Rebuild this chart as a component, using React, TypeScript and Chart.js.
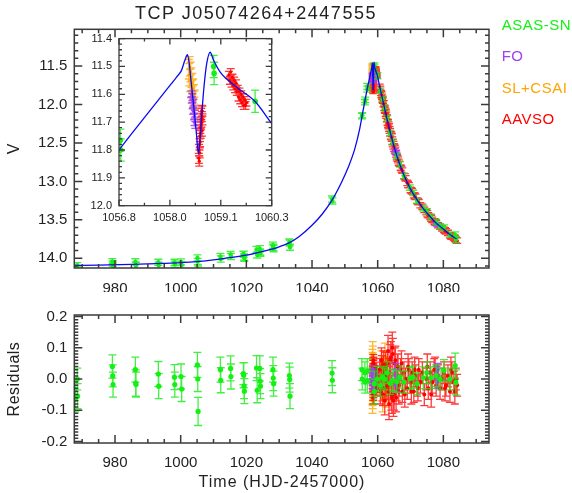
import React, { useEffect, useRef } from 'react';
import { Chart, registerables } from 'chart.js';
Chart.register(...registerables);

// ---------------- data ----------------
const TITLE = 'TCP J05074264+2447555';
const X_TITLE = 'Time (HJD-2457000)';

// model light curve
const modelT = [967.5, 975, 985, 995, 1000, 1005, 1010, 1015, 1020, 1025, 1030, 1033, 1036, 1040, 1043, 1046, 1049, 1051, 1053, 1054.5, 1055.5, 1056.2, 1056.8, 1057.4, 1058.0, 1058.12, 1058.23, 1058.31, 1058.37, 1058.41, 1058.45, 1058.5, 1058.55, 1058.58, 1058.62, 1058.665, 1058.71, 1058.75, 1058.81, 1058.89, 1058.96, 1059.12, 1059.5, 1059.92, 1060.3, 1061, 1062, 1063, 1064, 1065, 1066, 1067, 1068, 1070, 1072, 1074, 1076, 1078, 1080, 1082, 1084];
const modelV = [14.092, 14.088, 14.079, 14.066, 14.057, 14.042, 14.02, 13.99, 13.96, 13.91, 13.85, 13.8, 13.72, 13.57, 13.43, 13.25, 13.01, 12.82, 12.58, 12.32, 12.09, 11.93, 11.8, 11.68, 11.562, 11.538, 11.515, 11.478, 11.458, 11.49, 11.55, 11.624, 11.7, 11.75, 11.814, 11.745, 11.645, 11.57, 11.49, 11.449, 11.475, 11.52, 11.575, 11.626, 11.705, 11.84, 12.03, 12.22, 12.39, 12.55, 12.69, 12.81, 12.92, 13.1, 13.24, 13.36, 13.46, 13.55, 13.62, 13.69, 13.75];

// ASAS-SN
const asasT = [967.7, 967.9, 968.5, 968.6, 979.2, 979.3, 979.4, 986.2, 986.3, 986.4, 993.2, 993.3, 998.1, 998.2, 1000.1, 1000.3, 1005.1, 1005.2, 1005.3, 1012.1, 1012.2, 1015.2, 1015.3, 1019.1, 1019.2, 1019.3, 1019.4, 1023.1, 1023.3, 1024.1, 1024.2, 1024.3, 1028.1, 1028.2, 1028.3, 1033.1, 1033.2, 1033.3, 1046.1, 1046.2, 1055.2, 1055.3, 1056.1, 1056.2, 1056.83, 1056.84, 1058.97, 1058.98, 1059.92, 1060.8, 1061.5, 1062.1, 1062.9, 1063.8, 1064.6, 1065.8, 1066.8, 1068.0, 1069.8, 1070.8, 1072.0, 1073.9, 1075.0, 1076.2, 1077.8, 1079.0, 1080.2, 1082.0, 1083.6, 1083.8];
const asasV = [14.125, 14.15, 14.09, 14.145, 14.04, 14.07, 14.1, 14.046, 14.089, 14.094, 14.052, 14.091, 14.052, 14.076, 14.047, 14.087, 13.995, 14.04, 14.145, 13.975, 14.009, 13.951, 13.977, 13.943, 13.948, 13.983, 13.999, 13.885, 13.956, 13.876, 13.917, 13.933, 13.83, 13.857, 13.875, 13.789, 13.802, 13.855, 13.23, 13.254, 12.15, 12.14, 11.97, 11.94, 11.765, 11.8, 11.5, 11.525, 11.625, 11.82, 11.93, 12.05, 12.18, 12.37, 12.49, 12.67, 12.78, 12.93, 13.08, 13.15, 13.255, 13.35, 13.39, 13.465, 13.53, 13.585, 13.6, 13.69, 13.695, 13.755];
const asasErr = [0.035, 0.045, 0.035, 0.04, 0.037, 0.035, 0.04, 0.04, 0.042, 0.04, 0.04, 0.04, 0.04, 0.04, 0.04, 0.04, 0.04, 0.04, 0.045, 0.04, 0.04, 0.04, 0.04, 0.035, 0.04, 0.04, 0.04, 0.04, 0.04, 0.04, 0.04, 0.04, 0.04, 0.04, 0.04, 0.04, 0.04, 0.04, 0.04, 0.04, 0.035, 0.035, 0.035, 0.035, 0.04, 0.04, 0.04, 0.04, 0.04, 0.035, 0.035, 0.035, 0.035, 0.035, 0.035, 0.035, 0.035, 0.035, 0.035, 0.035, 0.035, 0.035, 0.035, 0.035, 0.035, 0.035, 0.035, 0.035, 0.04, 0.04];
const asasRes = [-0.034, -0.06, 0.0, -0.055, 0.04, 0.01, -0.018, 0.03, -0.013, -0.018, 0.016, -0.023, 0.006, -0.018, 0.008, -0.032, 0.045, 0.0, -0.104, 0.03, -0.004, 0.034, 0.008, 0.017, 0.012, -0.023, -0.039, 0.035, -0.036, 0.034, -0.007, -0.023, 0.03, 0.003, -0.015, 0.011, -0.002, -0.055, 0.019, -0.004, 0.03, 0.0, 0.02, -0.01, 0.025, -0.005, -0.015, -0.04, 0.0, -0.02, 0.005, 0.0, 0.02, -0.014, -0.004, -0.008, 0.006, -0.01, 0.002, 0.006, -0.015, 0.004, 0.02, 0.004, 0.011, 0.0, 0.027, 0.0, 0.043, -0.011];

// FO
const foT = [1058.46, 1058.47, 1058.48, 1058.49, 1058.5, 1058.51, 1058.52, 1058.53, 1058.54, 1058.55, 1065.3, 1065.5, 1065.7, 1077.9, 1078.1, 1078.3];
const foV = [11.6, 11.62, 11.61, 11.64, 11.66, 11.63, 11.68, 11.7, 11.67, 11.71, 12.59, 12.62, 12.64, 13.55, 13.56, 13.57];
const foErr = [0.012, 0.012, 0.012, 0.012, 0.012, 0.012, 0.012, 0.012, 0.012, 0.012, 0.02, 0.02, 0.02, 0.02, 0.02, 0.02];
const foRes = [0.01, -0.02, 0.03, 0.0, -0.01, 0.02, -0.03, 0.01, 0.02, -0.01, 0.03, -0.02, 0.01, 0.02, -0.01, 0.03];

// SL+CSAI
const slT = [1058.4, 1058.41, 1058.42, 1058.43, 1058.44, 1058.45, 1058.46, 1058.47, 1058.48, 1058.49, 1058.5, 1058.51, 1058.52, 1058.53, 1058.54, 1061.2, 1061.5, 1061.8, 1062.2, 1062.5, 1062.8, 1063.1];
const slV = [11.51, 11.53, 11.5, 11.55, 11.52, 11.57, 11.54, 11.59, 11.56, 11.61, 11.58, 11.63, 11.6, 11.65, 11.62, 11.88, 11.94, 11.99, 12.07, 12.12, 12.18, 12.24];
const slErr = [0.035, 0.04, 0.035, 0.04, 0.035, 0.04, 0.035, 0.04, 0.035, 0.04, 0.035, 0.04, 0.035, 0.04, 0.035, 0.04, 0.045, 0.04, 0.045, 0.04, 0.045, 0.04];
const slRes = [0.06, -0.04, 0.03, -0.07, 0.05, 0.0, -0.05, 0.08, -0.02, 0.04, -0.06, 0.02, 0.07, -0.03, 0.01, 0.05, -0.06, 0.03, 0.07, -0.05, 0.02, -0.03];

// AAVSO
const aavsoT = [1058.63, 1058.635, 1058.64, 1058.645, 1058.65, 1058.655, 1058.66, 1058.665, 1058.67, 1058.675, 1058.68, 1058.685, 1058.69, 1058.695, 1058.7, 1058.705, 1058.71, 1058.715,
  1059.32, 1059.34, 1059.36, 1059.38, 1059.4, 1059.42, 1059.44, 1059.46, 1059.48, 1059.5, 1059.52, 1059.54, 1059.56, 1059.58, 1059.6, 1059.62, 1059.64, 1059.66, 1059.68, 1059.7, 1059.72,
  1060.6, 1061.0, 1061.3, 1061.6, 1062.0, 1062.3, 1062.6, 1063.0, 1063.3, 1063.6, 1064.0, 1064.3, 1064.6, 1065.0, 1065.4, 1065.8, 1066.2, 1066.6, 1067.0, 1067.5, 1068.0, 1068.5, 1069.0, 1069.5, 1070.0, 1070.5, 1071.0, 1071.5, 1072.0, 1072.5, 1073.0, 1073.6, 1074.2, 1074.8, 1075.4, 1076.0, 1076.6, 1077.2, 1077.8, 1078.4, 1079.0, 1079.6, 1080.2, 1080.8, 1081.4, 1082.0, 1082.6, 1083.2, 1083.8, 1084.2,
  1060.8, 1061.15, 1061.45, 1061.8, 1062.15, 1062.45, 1062.8, 1063.15, 1063.45, 1063.8, 1064.15, 1064.45, 1064.8, 1065.2, 1065.6, 1066.0, 1066.4, 1067.25, 1068.25, 1069.25, 1070.25, 1071.25, 1072.25, 1075.1, 1076.3, 1077.5, 1080.5, 1082.3, 1083.5];
const aavsoV = [11.83, 11.8, 11.84, 11.78, 11.81, 11.75, 11.77, 11.72, 11.74, 11.69, 11.71, 11.67, 11.7, 11.66, 11.68, 11.73, 11.66, 11.69,
  11.53, 11.55, 11.52, 11.56, 11.54, 11.57, 11.55, 11.58, 11.56, 11.59, 11.58, 11.61, 11.59, 11.62, 11.6, 11.63, 11.61, 11.64, 11.62, 11.64, 11.63,
  11.77, 11.85, 11.9, 11.95, 12.04, 12.08, 12.14, 12.23, 12.27, 12.33, 12.4, 12.43, 12.5, 12.56, 12.6, 12.68, 12.72, 12.77, 12.82, 12.86, 12.93, 12.96, 13.02, 13.05, 13.11, 13.13, 13.18, 13.2, 13.25, 13.27, 13.31, 13.33, 13.37, 13.4, 13.44, 13.46, 13.5, 13.52, 13.54, 13.57, 13.59, 13.61, 13.63, 13.65, 13.67, 13.7, 13.72, 13.73, 13.76, 13.77,
  11.8, 11.87, 11.93, 11.99, 12.06, 12.11, 12.18, 12.25, 12.3, 12.36, 12.41, 12.47, 12.53, 12.58, 12.64, 12.7, 12.75, 12.84, 12.94, 13.04, 13.12, 13.19, 13.26, 13.42, 13.48, 13.53, 13.64, 13.71, 13.74];
const aavsoErr = [0.018, 0.02, 0.018, 0.02, 0.018, 0.02, 0.018, 0.02, 0.018, 0.02, 0.018, 0.02, 0.018, 0.02, 0.018, 0.02, 0.018, 0.02,
  0.012, 0.014, 0.012, 0.014, 0.012, 0.014, 0.012, 0.014, 0.012, 0.014, 0.012, 0.014, 0.012, 0.014, 0.012, 0.014, 0.012, 0.014, 0.012, 0.014, 0.012,
  0.035, 0.035, 0.035, 0.035, 0.035, 0.035, 0.04, 0.04, 0.045, 0.045, 0.05, 0.05, 0.05, 0.05, 0.045, 0.04, 0.04, 0.035, 0.035, 0.035, 0.035, 0.035, 0.035, 0.035, 0.035, 0.035, 0.035, 0.035, 0.035, 0.035, 0.035, 0.035, 0.035, 0.035, 0.035, 0.035, 0.035, 0.035, 0.035, 0.035, 0.035, 0.035, 0.035, 0.035, 0.035, 0.035, 0.035, 0.035, 0.035, 0.035,
  0.04, 0.04, 0.04, 0.04, 0.045, 0.045, 0.045, 0.05, 0.05, 0.05, 0.05, 0.05, 0.05, 0.05, 0.045, 0.04, 0.04, 0.04, 0.04, 0.04, 0.04, 0.04, 0.04, 0.04, 0.04, 0.04, 0.04, 0.04, 0.04];
const aavsoRes = [0.02, -0.03, 0.05, -0.06, 0.01, 0.04, -0.02, 0.03, -0.05, 0.0, 0.06, -0.04, 0.02, -0.01, 0.03, -0.03, 0.01, 0.05,
  0.01, -0.02, 0.03, -0.01, 0.02, -0.03, 0.0, 0.04, -0.02, 0.01, -0.04, 0.02, 0.0, -0.01, 0.03, -0.02, 0.01, 0.02, -0.03, 0.0, 0.01,
  0.03, -0.02, 0.04, -0.05, 0.02, -0.03, 0.01, 0.05, -0.04, 0.02, 0.07, -0.06, 0.08, -0.05, 0.06, -0.03, 0.04, -0.02, 0.03, -0.04, 0.02, 0.0, -0.03, 0.03, -0.01, 0.02, -0.04, 0.01, -0.02, 0.03, -0.01, 0.02, -0.05, 0.0, -0.03, 0.02, -0.01, 0.03, -0.02, 0.01, -0.03, 0.0, 0.02, -0.02, 0.01, -0.04, 0.02, -0.01, 0.0, -0.02,
  -0.04, 0.06, -0.03, 0.05, -0.07, 0.04, -0.02, 0.09, -0.08, 0.06, -0.05, 0.1, -0.07, 0.05, -0.06, 0.04, -0.04, 0.05, -0.05, 0.04, -0.04, 0.03, -0.03, 0.04, -0.05, 0.03, -0.03, 0.03, -0.04];

// axis ticks / labels
const mainXTicks = [980, 1000, 1020, 1040, 1060, 1080];
const mainYTicks = [11.5, 12.0, 12.5, 13.0, 13.5, 14.0];
const resYTicks = [-0.2, -0.1, 0.0, 0.1, 0.2];
const insetYTicks = [11.4, 11.5, 11.6, 11.7, 11.8, 11.9, 12.0];
const insetXLabels = ['1056.8', '1058.0', '1059.1', '1060.3'];
const legendNames = ['ASAS-SN', 'FO', 'SL+CSAI', 'AAVSO'];

// ---------------- styles ----------------
const GREEN = '#14f014';
const PURPLE = '#a040f0';
const ORANGE = '#ffa500';
const RED = '#ff0000';
const BLUE = '#0a0af0';
const AXIS = '#3a3a3a';
const FONT = "'Liberation Sans', Arial, Helvetica, sans-serif";

const X_MIN = 967.6, X_MAX = 1093.9;
const V_TOP = 11.022, V_BOT = 14.126;
const R_MIN = -0.205, R_MAX = 0.205;
const IX_MIN = 1056.8, IX_MAX = 1060.3;
const IY_MIN = 11.4, IY_MAX = 12.0;

Chart.defaults.font.family = FONT;

function stepTicks(min: number, max: number, step: number, start?: number) {
  const out: number[] = [];
  const s0 = start !== undefined ? start : Math.ceil(min / step - 1e-9) * step;
  for (let k = 0; ; k++) {
    const v = s0 + k * step;
    if (v > max + 1e-9) break;
    if (v >= min - 1e-9) out.push(v);
  }
  return out;
}

const errorBars = {
  id: 'errorBars',
  beforeDatasetDraw(chart: any, args: any) {
    const ds = chart.data.datasets[args.index];
    if (!ds.errs) return;
    const meta = args.meta;
    const ys = chart.scales[meta.yAxisID];
    const { ctx, chartArea: a } = chart;
    ctx.save();
    ctx.beginPath();
    ctx.rect(a.left, a.top, a.right - a.left, a.bottom - a.top);
    ctx.clip();
    ctx.strokeStyle = ds.errColor;
    ctx.lineWidth = ds.errWidth || 1.2;
    const cap = ds.cap || 4;
    ctx.beginPath();
    ds.data.forEach((p: any, i: number) => {
      const el = meta.data[i];
      if (!el) return;
      const x = el.x;
      const y1 = ys.getPixelForValue(p.y - ds.errs[i]);
      const y2 = ys.getPixelForValue(p.y + ds.errs[i]);
      ctx.moveTo(x, y1); ctx.lineTo(x, y2);
      ctx.moveTo(x - cap, y1); ctx.lineTo(x + cap, y1);
      ctx.moveTo(x - cap, y2); ctx.lineTo(x + cap, y2);
    });
    ctx.stroke();
    ctx.restore();
  },
};

function makeBox(cfg: any) {
  return {
    id: 'boxTicks',
    beforeDraw(chart: any) {
      if (!cfg.white) return;
      const { ctx, chartArea: a } = chart;
      ctx.save();
      ctx.fillStyle = '#ffffff';
      ctx.fillRect(a.left, a.top, a.right - a.left, a.bottom - a.top);
      ctx.restore();
    },
    afterDatasetsDraw(chart: any) {
      const { ctx, chartArea: a } = chart;
      const xs = chart.scales.x, ys = chart.scales.y;
      ctx.save();
      ctx.strokeStyle = AXIS;
      ctx.lineWidth = cfg.lw;
      ctx.beginPath();
      const xt = (vals: number[], len: number) => vals.forEach((v) => {
        const p = xs.getPixelForValue(v);
        if (p < a.left - 0.5 || p > a.right + 0.5) return;
        ctx.moveTo(p, a.bottom); ctx.lineTo(p, a.bottom - len);
        ctx.moveTo(p, a.top); ctx.lineTo(p, a.top + len);
      });
      const yt = (vals: number[], len: number) => vals.forEach((v) => {
        const p = ys.getPixelForValue(v);
        if (p < a.top - 0.5 || p > a.bottom + 0.5) return;
        ctx.moveTo(a.left, p); ctx.lineTo(a.left + len, p);
        ctx.moveTo(a.right, p); ctx.lineTo(a.right - len, p);
      });
      xt(cfg.xMinor, cfg.minLen); xt(cfg.xMajor, cfg.majLen);
      yt(cfg.yMinor, cfg.minLen); yt(cfg.yMajor, cfg.majLen);
      ctx.stroke();
      ctx.strokeRect(a.left, a.top, a.right - a.left, a.bottom - a.top);
      ctx.restore();
    },
  };
}

type Series = { t: number[]; v: number[]; e: number[]; r: number[]; color: string; err: string; order: number; big?: boolean };
const seriesList: Series[] = [
  { t: slT, v: slV, e: slErr, r: slRes, color: ORANGE, err: 'rgba(255,165,0,0.8)', order: 4 },
  { t: aavsoT, v: aavsoV, e: aavsoErr, r: aavsoRes, color: RED, err: 'rgba(255,0,0,0.78)', order: 3 },
  { t: foT, v: foV, e: foErr, r: foRes, color: PURPLE, err: 'rgba(160,64,240,0.85)', order: 2 },
  { t: asasT, v: asasV, e: asasErr, r: asasRes, color: GREEN, err: 'rgba(20,235,20,0.8)', order: 1, big: true },
];

function buildSets(mode: 'mag' | 'res', small: number, bigR: number, cap: number, withModel: boolean) {
  const sets: any[] = seriesList.map((s) => ({
    type: 'scatter',
    data: s.t.map((x, i) => ({ x, y: mode === 'mag' ? s.v[i] : s.r[i] })),
    errs: s.e,
    errColor: s.err,
    errWidth: 1.3,
    cap,
    pointRadius: s.big ? bigR : small,
    pointBackgroundColor: s.color,
    pointBorderWidth: 0,
    pointStyle: 'circle',
    order: s.order,
  }));
  if (withModel) {
    sets.push({
      type: 'line',
      data: modelT.map((x, i) => ({ x, y: modelV[i] })),
      borderColor: BLUE,
      borderWidth: 1.3,
      pointRadius: 0,
      fill: false,
      cubicInterpolationMode: 'monotone',
      order: 0,
    });
  }
  return sets;
}

function baseScale(min: number, max: number, ticks: number[], fmt: (v: number) => string, size: number, pad: number, fit: (s: any) => void, reverse = false) {
  return {
    type: 'linear',
    min, max, reverse,
    grid: { display: false, drawTicks: false },
    border: { display: false },
    afterBuildTicks: (s: any) => { s.ticks = ticks.map((v) => ({ value: v })); },
    afterFit: fit,
    ticks: { autoSkip: false, maxRotation: 0, minRotation: 0, padding: pad, color: '#222', font: { size, family: FONT }, callback: (v: any) => fmt(Number(v)) },
  };
}

const common = {
  responsive: false,
  animation: false,
  events: [],
  plugins: { legend: { display: false }, tooltip: { enabled: false }, title: { display: false } },
};

export default function App() {
  const mainRef = useRef<HTMLCanvasElement>(null);
  const resRef = useRef<HTMLCanvasElement>(null);
  const insetRef = useRef<HTMLCanvasElement>(null);

  useEffect(() => {
    const charts: Chart[] = [];
    const insetXTicks = insetXLabels.map((_, k) => IX_MIN + (k * (IX_MAX - IX_MIN)) / (insetXLabels.length - 1));

    charts.push(new Chart(mainRef.current as HTMLCanvasElement, {
      type: 'scatter',
      data: { datasets: buildSets('mag', 1.6, 2.2, 4, true) },
      options: {
        ...common,
        layout: { padding: { left: 0, top: 29.3, right: 83, bottom: 8 } },
        scales: {
          x: baseScale(X_MIN, X_MAX, mainXTicks, (v) => String(Math.round(v)), 15, 11.5, (s: any) => { s.height = 24; }),
          y: baseScale(V_TOP, V_BOT, mainYTicks, (v) => v.toFixed(1), 15, 7, (s: any) => { s.width = 74.3; }, true),
        },
      } as any,
      plugins: [errorBars, makeBox({ lw: 1.5, majLen: 8, minLen: 4, xMajor: mainXTicks, xMinor: stepTicks(X_MIN, X_MAX, 5), yMajor: mainYTicks, yMinor: stepTicks(V_TOP, V_BOT, 0.1) })],
    } as any));

    charts.push(new Chart(resRef.current as HTMLCanvasElement, {
      type: 'scatter',
      data: { datasets: buildSets('res', 2, 2.6, 4, false) },
      options: {
        ...common,
        layout: { padding: { left: 0, top: 25, right: 83, bottom: 26 } },
        scales: {
          x: baseScale(X_MIN, X_MAX, mainXTicks, (v) => String(Math.round(v)), 15, 10.5, (s: any) => { s.height = 24; }),
          y: baseScale(R_MIN, R_MAX, resYTicks, (v) => v.toFixed(1), 15, 7, (s: any) => { s.width = 74.3; }),
        },
      } as any,
      plugins: [errorBars, makeBox({ lw: 1.5, majLen: 8, minLen: 4, xMajor: mainXTicks, xMinor: stepTicks(X_MIN, X_MAX, 5), yMajor: resYTicks, yMinor: stepTicks(R_MIN, R_MAX, 0.01) })],
    } as any));

    charts.push(new Chart(insetRef.current as HTMLCanvasElement, {
      type: 'scatter',
      data: { datasets: buildSets('mag', 1.6, 2.8, 4, true) },
      options: {
        ...common,
        layout: { padding: { left: 0, top: 6.7, right: 38.3, bottom: 0 } },
        scales: {
          x: baseScale(IX_MIN, IX_MAX, insetXTicks, (v) => insetXLabels[Math.round(((v - IX_MIN) / (IX_MAX - IX_MIN)) * (insetXLabels.length - 1))], 11, 6, (s: any) => { s.height = 19.3; }),
          y: baseScale(IY_MIN, IY_MAX, insetYTicks, (v) => v.toFixed(1), 11, 7, (s: any) => { s.width = 39; }, true),
        },
      } as any,
      plugins: [errorBars, makeBox({ white: true, lw: 1.3, majLen: 6, minLen: 3, xMajor: insetXTicks, xMinor: stepTicks(IX_MIN, IX_MAX, (IX_MAX - IX_MIN) / 6, IX_MIN), yMajor: insetYTicks, yMinor: stepTicks(IY_MIN, IY_MAX, 0.02) })],
    } as any));

    return () => charts.forEach((c) => c.destroy());
  }, []);

  const legendColors = [GREEN, PURPLE, ORANGE, RED];
  const legendTops = [16.5, 48.2, 80.2, 111.4];

  return (
    <div style={{ position: 'absolute', left: 0, top: 0, width: 572, height: 493, background: '#fff', fontFamily: FONT, overflow: 'hidden' }}>
      <canvas ref={mainRef} width={572} height={300} style={{ position: 'absolute', left: 0, top: 0 }} />
      <canvas ref={resRef} width={572} height={203} style={{ position: 'absolute', left: 0, top: 290 }} />
      <canvas ref={insetRef} width={230} height={200} style={{ position: 'absolute', left: 80, top: 25 }} />
      <div style={{ position: 'absolute', left: 106, top: 4.3, width: 300, textAlign: 'center', fontSize: 18, lineHeight: '18px', letterSpacing: '1.5px', color: '#222', whiteSpace: 'nowrap' }}>{TITLE}</div>
      {legendNames.map((n, i) => (
        <div key={n} style={{ position: 'absolute', left: 501.7, top: legendTops[i], fontSize: 15, lineHeight: '15px', letterSpacing: '0.5px', color: legendColors[i], whiteSpace: 'nowrap' }}>{n}</div>
      ))}
      <div style={{ position: 'absolute', left: 14 - 50, top: 148.5 - 8, width: 100, textAlign: 'center', fontSize: 16, lineHeight: '16px', color: '#222', transform: 'rotate(-90deg)', transformOrigin: '50% 50%' }}>V</div>
      <div style={{ position: 'absolute', left: 14 - 60, top: 379 - 8, width: 120, textAlign: 'center', fontSize: 16, lineHeight: '16px', letterSpacing: '0.5px', color: '#222', transform: 'rotate(-90deg)', transformOrigin: '50% 50%' }}>Residuals</div>
      <div style={{ position: 'absolute', left: 282 - 120, top: 474, width: 240, textAlign: 'center', fontSize: 16, lineHeight: '16px', letterSpacing: '1px', color: '#222', whiteSpace: 'nowrap' }}>{X_TITLE}</div>
    </div>
  );
}
